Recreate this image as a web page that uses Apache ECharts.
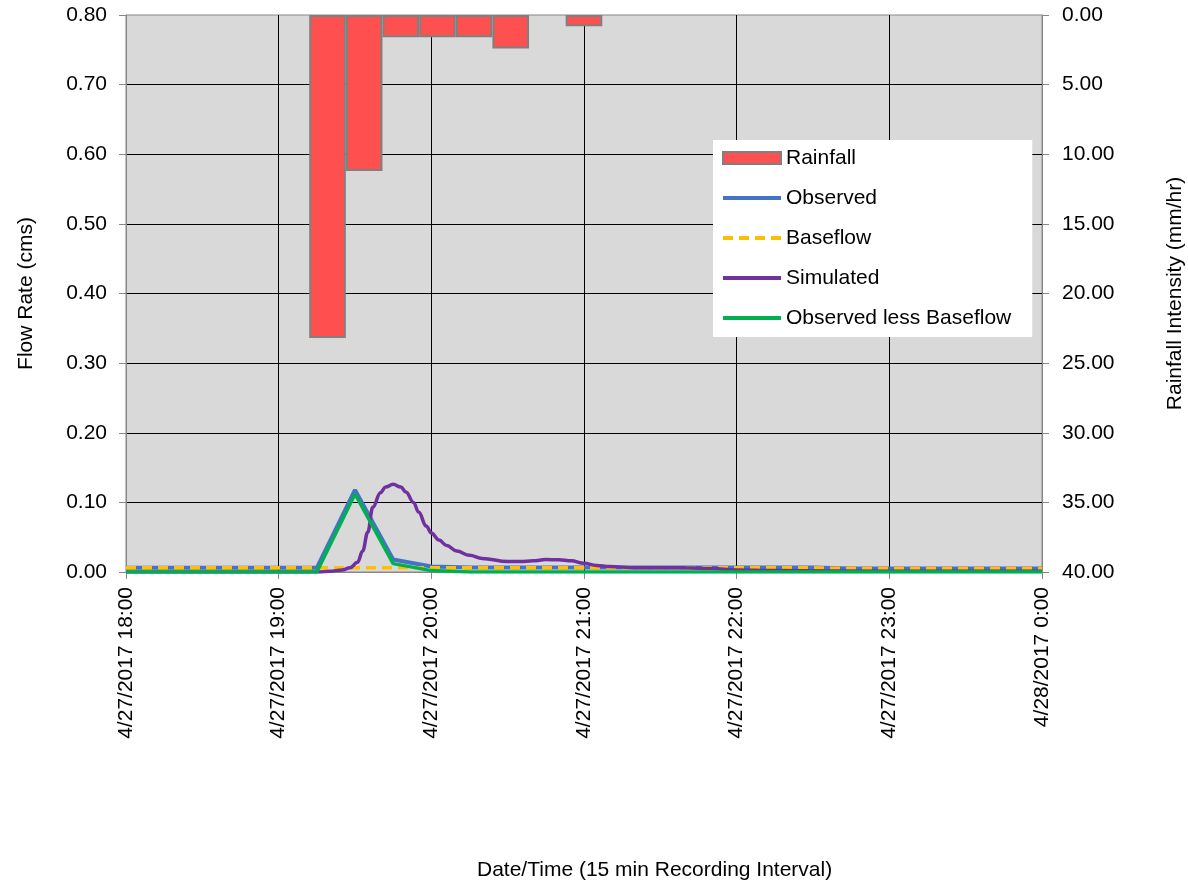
<!DOCTYPE html>
<html>
<head>
<meta charset="utf-8">
<script src="https://cdn.jsdelivr.net/npm/echarts@6/dist/echarts.min.js"></script>
<style>
html,body{margin:0;padding:0;background:#fff;}
#chart{width:1188px;height:887px;}
</style>
</head>
<body>
<div id="chart"></div>
<script>
// 15-minute recording times (18:00 .. 0:00)
var flowTimes = ["18:00","18:15","18:30","18:45","19:00","19:15","19:30","19:45","20:00","20:15","20:30","20:45","21:00","21:15","21:30","21:45","22:00","22:15","22:30","22:45","23:00","23:15","23:30","23:45","0:00"];
var observed = [0.006,0.006,0.006,0.006,0.006,0.006,0.118,0.018,0.008,0.0065,0.0065,0.0065,0.0065,0.0065,0.0065,0.0065,0.0065,0.0065,0.0065,0.005,0.005,0.005,0.005,0.005,0.005];
var baseflow = [0.006,0.006,0.006,0.006,0.006,0.006,0.006,0.006,0.006,0.006,0.006,0.006,0.006,0.006,0.006,0.006,0.006,0.006,0.006,0.005,0.005,0.005,0.005,0.005,0.005];
var obsLessBase = [0,0,0,0,0,0,0.112,0.012,0.002,0,0,0,0,0,0,0,0,0,0,0,0,0,0,0,0];
// rainfall intensity (mm/hr) per 15-min interval
var rainfall = [0,0,0,0,0,23.2,11.2,1.6,1.6,1.6,2.4,0,0.8,0,0,0,0,0,0,0,0,0,0,0,0];
// simulated flow (model output)
var simTimes = ["18:00","19:00","19:15","19:20","19:25","19:28","19:31","19:33","19:35","19:37","19:40","19:42","19:45","19:48","19:50","19:53","19:55","19:58","20:00","20:03","20:06","20:10","20:15","20:20","20:30","20:35","20:40","20:45","20:50","20:55","21:00","21:05","21:10","21:20","21:40","21:50","22:00","22:15","23:00","0:00"];
var simulated = [0,0,0,0.001,0.003,0.006,0.014,0.03,0.057,0.093,0.114,0.122,0.126,0.122,0.115,0.1,0.086,0.066,0.056,0.046,0.038,0.03,0.024,0.0195,0.015,0.015,0.016,0.018,0.0175,0.016,0.0125,0.0095,0.0078,0.0062,0.006,0.005,0.003,0.002,0.001,0.001];
var xTickLabels = ["4/27/2017 18:00","4/27/2017 19:00","4/27/2017 20:00","4/27/2017 21:00","4/27/2017 22:00","4/27/2017 23:00","4/28/2017 0:00"];

function toMin(s){var p=s.split(':');var h=+p[0];if(h<18)h+=24;return (h-18)*60+(+p[1]);}
function pairs(times, vals){return times.map(function(t,i){return [toMin(t), vals[i]];});}

var FONT = '"Liberation Sans", Arial, sans-serif';
var FS = 21;
var hideSym = {opacity:0};
var chart = echarts.init(document.getElementById('chart'));
chart.setOption({
  animation:false,
  textStyle:{fontFamily:FONT},
  title:{text:'Date/Time (15 min Recording Interval)', left:477, top:860, padding:0,
    textStyle:{fontFamily:FONT,fontSize:FS,fontWeight:'normal',color:'#000'}},
  grid:{left:126,right:146,top:15,bottom:315,outerBoundsMode:'none',containLabel:false,show:true,backgroundColor:'#d9d9d9',borderColor:'#888',borderWidth:1},
  legend:{
    orient:'vertical', left:713, top:140, padding:[7,21,8,8], itemGap:18,
    backgroundColor:'#fff', itemWidth:58, itemHeight:12,
    textStyle:{fontFamily:FONT,fontSize:FS,color:'#000',lineHeight:22},
    data:[
      {name:'Rainfall',icon:'rect'},
      {name:'Observed',itemStyle:hideSym,lineStyle:{width:4}},
      {name:'Baseflow',itemStyle:hideSym,lineStyle:{width:4,type:[10,6]}},
      {name:'Simulated',itemStyle:hideSym,lineStyle:{width:4}},
      {name:'Observed less Baseflow',itemStyle:hideSym,lineStyle:{width:4}}
    ]
  },
  xAxis:[{
    type:'value', min:0, max:360, interval:60,
    axisLine:{show:true,lineStyle:{color:'#888',width:1}},
    axisTick:{show:true,length:7,lineStyle:{color:'#888'}},
    axisLabel:{rotate:90,margin:15,fontFamily:FONT,fontSize:FS,color:'#000',
      formatter:function(v){return xTickLabels[Math.round(v/60)];}},
    splitLine:{show:true,showMinLine:false,showMaxLine:false,lineStyle:{color:'#000',width:1}}
  },{
    type:'category', data:flowTimes, boundaryGap:true, show:false, position:'top'
  }],
  yAxis:[{
    type:'value', min:0, max:0.8, interval:0.1,
    name:'Flow Rate (cms)', nameLocation:'middle', nameGap:89, nameRotate:90,
    nameTextStyle:{fontFamily:FONT,fontSize:FS,color:'#000'},
    axisLine:{show:true,lineStyle:{color:'#888',width:1}},
    axisTick:{show:true,length:7,lineStyle:{color:'#888'}},
    axisLabel:{margin:19,fontFamily:FONT,fontSize:FS,color:'#000',formatter:function(v){return v.toFixed(2);}},
    splitLine:{show:true,showMinLine:false,showMaxLine:false,lineStyle:{color:'#000',width:1}}
  },{
    type:'value', position:'right', inverse:true, min:0, max:40, interval:5,
    name:'Rainfall Intensity (mm/hr)', nameLocation:'middle', nameGap:123, nameRotate:90,
    nameTextStyle:{fontFamily:FONT,fontSize:FS,color:'#000'},
    axisLine:{show:true,lineStyle:{color:'#888',width:1}},
    axisTick:{show:true,length:7,lineStyle:{color:'#888'}},
    axisLabel:{margin:20,fontFamily:FONT,fontSize:FS,color:'#000',formatter:function(v){return v.toFixed(2);}},
    splitLine:{show:false}
  }],
  series:[
    {name:'Rainfall', type:'bar', xAxisIndex:1, yAxisIndex:1, barWidth:'100%',
      data:rainfall.map(function(v){return v>0?v:'-';}),
      itemStyle:{color:'#ff5050',borderColor:'#808080',borderWidth:2}},
    {name:'Observed', type:'line', xAxisIndex:0, yAxisIndex:0, symbol:'none',
      data:pairs(flowTimes, observed), lineStyle:{color:'#4472c4',width:4}, itemStyle:{color:'#4472c4'}},
    {name:'Baseflow', type:'line', xAxisIndex:0, yAxisIndex:0, symbol:'none',
      data:pairs(flowTimes, baseflow), lineStyle:{color:'#ffc000',width:3.5,type:[10,6]}, itemStyle:{color:'#ffc000'}},
    {name:'Simulated', type:'line', xAxisIndex:0, yAxisIndex:0, symbol:'none', smooth:0.4, smoothMonotone:'x',
      data:pairs(simTimes, simulated), lineStyle:{color:'#7030a0',width:3.5}, itemStyle:{color:'#7030a0'}},
    {name:'Observed less Baseflow', type:'line', xAxisIndex:0, yAxisIndex:0, symbol:'none',
      data:pairs(flowTimes, obsLessBase), lineStyle:{color:'#00b050',width:3.5}, itemStyle:{color:'#00b050'}}
  ]
});
</script>
</body>
</html>
